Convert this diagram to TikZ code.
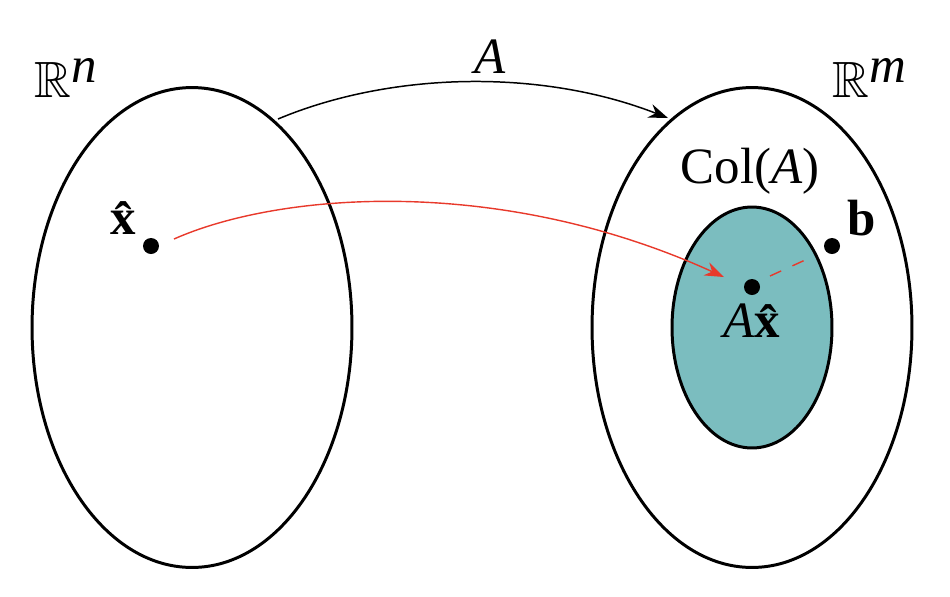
\documentclass[tikz,border=0pt]{standalone}
\usepackage{amssymb}
\usepackage{fontspec}
\setmainfont{Liberation Serif}
\usetikzlibrary{shapes.geometric,arrows.meta}
\definecolor{tealfill}{HTML}{7BBDBF}
\definecolor{redline}{HTML}{E8392B}
\begin{document}
\begin{tikzpicture}[x=0.02cm,y=-0.02cm,
  setshape/.style={draw=black,line width=1.7pt,ellipse,inner sep=0pt},
  dotnode/.style={circle,fill=black,inner sep=0pt,minimum size=0.32cm},
  lbl/.style={font=\fontsize{29}{33}\selectfont,inner sep=0pt},
  maparrow/.style={line width=0.85pt,-{Stealth[length=11pt,width=8pt]}}]
\useasboundingbox (0,0) rectangle (950,596);
\node[setshape,minimum width=6.4cm,minimum height=9.6cm] (Rn) at (192,327.5) {};
\node[setshape,minimum width=6.4cm,minimum height=9.6cm] (Rm) at (752,327.5) {};
\node[setshape,fill=tealfill,minimum width=3.2cm,minimum height=4.82cm] (Col) at (752,327.5) {};
\node[dotnode] (xhat) at (151,246) {};
\node[dotnode] (Axhat) at (752,287) {};
\node[dotnode] (b) at (832,246) {};
\node[lbl] (Rnlbl) at (66,78) {$\mathbb{R}^{\textit{n}}$};
\node[lbl] (Rmlbl) at (870,78) {$\mathbb{R}^{\textit{m}}$};
\node[lbl] (Albl) at (490,57) {\textit{A}};
\node[lbl] (Collbl) at (750,171) {Col(\textit{A})};
\node[lbl] (xlbl) at (123,218) {\bfseries\^x};
\node[lbl] (blbl) at (862,218) {\bfseries b};
\node[lbl] (Axlbl) at (752,321) {\textit{A}{\bfseries\^x}};
\coordinate (s1) at (278,119);
\coordinate (e1) at (668,118);
\draw[maparrow] (s1) .. controls (390,72) and (540,68) .. (e1);
\coordinate (s2) at (174,239);
\coordinate (e2) at (724,277);
\draw[maparrow,redline,line width=0.8pt] (s2) .. controls (280,192) and (500,175) .. (e2);
\coordinate (d1) at (770,276);
\coordinate (d2) at (814,256);
\draw[redline,line width=0.8pt,dash pattern=on 7pt off 7pt] (d1) -- (d2);
\end{tikzpicture}
\end{document}
